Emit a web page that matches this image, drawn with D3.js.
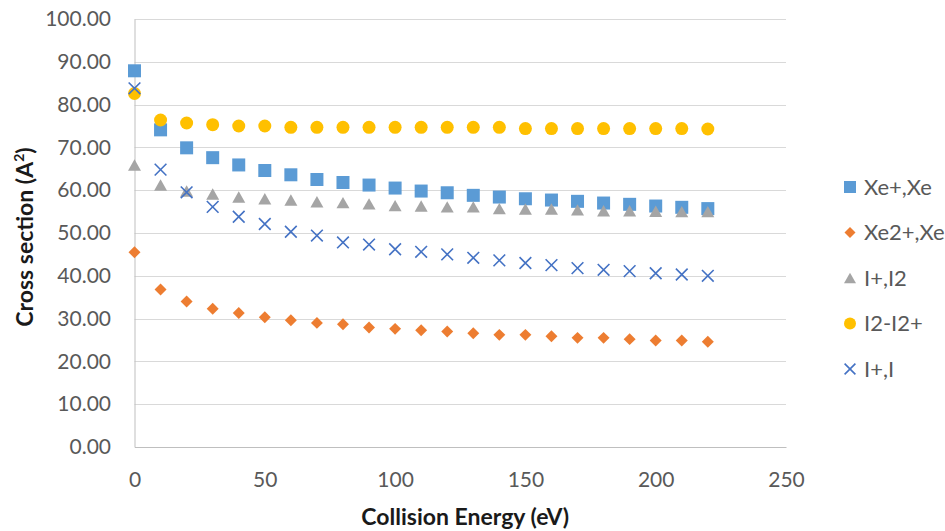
<!DOCTYPE html>
<html>
<head>
<meta charset="utf-8">
<script src="https://cdn.jsdelivr.net/npm/d3@7"></script>
<style>
  body { margin: 0; background: #fff; }
  svg { display: block; }
</style>
</head>
<body>
<script>
// collision energies (eV)
const energy = [0, 10, 20, 30, 40, 50, 60, 70, 80, 90, 100, 110, 120, 130, 140, 150, 160, 170, 180, 190, 200, 210, 220]

// cross sections
const xePlusXe = [87.9, 74.1, 69.9, 67.6, 65.9, 64.6, 63.6, 62.5, 61.8, 61.2, 60.5, 59.8, 59.4, 58.8, 58.4, 58.0, 57.7, 57.4, 57.0, 56.7, 56.3, 56.0, 55.7]
const xe2PlusXe = [45.5, 36.8, 34.0, 32.3, 31.3, 30.3, 29.6, 29.0, 28.7, 27.9, 27.6, 27.3, 27.0, 26.6, 26.2, 26.2, 25.9, 25.5, 25.5, 25.2, 24.9, 24.9, 24.6]
const iPlusI2 = [65.9, 61.2, 59.8, 59.1, 58.4, 58.0, 57.7, 57.3, 57.1, 56.8, 56.4, 56.3, 56.1, 56.1, 55.7, 55.6, 55.6, 55.4, 55.2, 55.2, 55.1, 55.0, 55.0]
const i2I2Plus = [82.6, 76.4, 75.7, 75.3, 75.0, 75.0, 74.7, 74.7, 74.7, 74.7, 74.7, 74.7, 74.7, 74.7, 74.7, 74.4, 74.4, 74.4, 74.4, 74.4, 74.4, 74.4, 74.3]
const iPlusI = [83.8, 64.8, 59.5, 56.1, 53.8, 52.1, 50.3, 49.4, 47.8, 47.3, 46.2, 45.6, 45.0, 44.2, 43.6, 43.0, 42.5, 41.8, 41.4, 41.1, 40.6, 40.3, 40.0]

const seriesNames = ["Xe+,Xe", "Xe2+,Xe", "I+,I2", "I2-I2+", "I+,I"]
const xTicks = [0, 50, 100, 150, 200, 250]
const yTicks = [0, 10, 20, 30, 40, 50, 60, 70, 80, 90, 100]

const series = [
  { name: seriesNames[0], values: xePlusXe, shape: "square", color: "#5B9BD5" },
  { name: seriesNames[1], values: xe2PlusXe, shape: "diamond", color: "#ED7D31" },
  { name: seriesNames[2], values: iPlusI2, shape: "triangle", color: "#A5A5A5" },
  { name: seriesNames[3], values: i2I2Plus, shape: "circle", color: "#FFC000" },
  { name: seriesNames[4], values: iPlusI, shape: "cross", color: "#4472C4" }
]

const width = 945, height = 531
const plotLeft = 134.5, plotRight = 786, plotTop = 19, plotBottom = 447
const font = "Lato, 'Open Sans', sans-serif"

let svg = d3.select("body").append("svg")
  .attr("width", width)
  .attr("height", height)

let x = d3.scaleLinear().domain([0, 250]).range([plotLeft, plotRight])
let y = d3.scaleLinear().domain([0, 100]).range([plotBottom, plotTop])

// horizontal gridlines
svg.append("g")
  .selectAll("line")
  .data(yTicks.filter(d => d > 0))
  .enter()
  .append("line")
  .attr("x1", plotLeft)
  .attr("x2", plotRight)
  .attr("y1", d => Math.round(y(d)) + 0.5)
  .attr("y2", d => Math.round(y(d)) + 0.5)
  .style("stroke", "#D9D9D9")
  .style("stroke-width", 1)

// y axis
let yAxis = svg.append("g")
  .attr("transform", `translate(${plotLeft},0)`)
  .call(d3.axisLeft(y).tickValues(yTicks).tickSize(0).tickPadding(23.5).tickFormat(d3.format(".2f")))
yAxis.select(".domain").style("stroke", "#BFBFBF")
yAxis.selectAll("text")
  .attr("font-family", font)
  .attr("font-size", "21px")
  .attr("fill", "#595959")

// x axis
let xAxis = svg.append("g")
  .attr("transform", `translate(0,${plotBottom})`)
  .call(d3.axisBottom(x).tickValues(xTicks).tickSize(0).tickPadding(25.5))
xAxis.select(".domain").style("stroke", "#BFBFBF")
xAxis.selectAll("text")
  .attr("font-family", font)
  .attr("font-size", "21px")
  .attr("fill", "#595959")

// axis titles
svg.append("text")
  .attr("x", (plotLeft + plotRight) / 2 + 5)
  .attr("y", 525)
  .attr("text-anchor", "middle")
  .attr("font-family", font)
  .attr("font-weight", "bold")
  .attr("font-size", "23px")
  .attr("fill", "#1a1a1a")
  .text("Collision Energy (eV)")

let yTitle = svg.append("text")
  .attr("transform", "translate(33,237) rotate(-90)")
  .attr("text-anchor", "middle")
  .attr("font-family", font)
  .attr("font-weight", "bold")
  .attr("font-size", "23px")
  .attr("fill", "#1a1a1a")
yTitle.append("tspan").text("Cross section (A")
yTitle.append("tspan").attr("font-size", "14px").attr("dy", "-9").text("2")
yTitle.append("tspan").attr("dy", "9").text(")")

// marker drawing
function marker(sel, shape, color, s) {
  if (shape === "square") {
    sel.append("rect")
      .attr("x", -s / 2).attr("y", -s / 2)
      .attr("width", s).attr("height", s)
      .style("fill", color)
  } else if (shape === "diamond") {
    let r = s * 0.46
    sel.append("path")
      .attr("d", `M0,${-r}L${r},0L0,${r}L${-r},0Z`)
      .style("fill", color)
  } else if (shape === "triangle") {
    let h = s * 0.88
    sel.append("path")
      .attr("d", `M0,${-h / 2}L${s / 2},${h / 2}L${-s / 2},${h / 2}Z`)
      .style("fill", color)
  } else if (shape === "circle") {
    sel.append("circle")
      .attr("r", s / 2)
      .style("fill", color)
  } else if (shape === "cross") {
    let r = s * 0.45
    sel.append("path")
      .attr("d", `M${-r},${-r}L${r},${r}M${-r},${r}L${r},${-r}`)
      .style("stroke", color)
      .style("stroke-width", 1.6)
      .style("fill", "none")
  }
}

// points, drawn in series order so later ones sit on top
series.forEach(function(s) {
  svg.append("g")
    .selectAll("g")
    .data(s.values)
    .enter()
    .append("g")
    .attr("transform", (d, i) => `translate(${x(energy[i])},${y(d)})`)
    .each(function() { marker(d3.select(this), s.shape, s.color, 13) })
})

// legend
let legend = svg.append("g")
  .selectAll("g")
  .data(series)
  .enter()
  .append("g")
  .attr("transform", (d, i) => `translate(850,${187 + i * 45.5})`)

legend.each(function(d) { marker(d3.select(this), d.shape, d.color, 12) })

legend.append("text")
  .attr("x", 14)
  .attr("dy", "0.35em")
  .attr("font-family", font)
  .attr("font-size", "22px")
  .attr("fill", "#595959")
  .text(d => d.name)
</script>
</body>
</html>
